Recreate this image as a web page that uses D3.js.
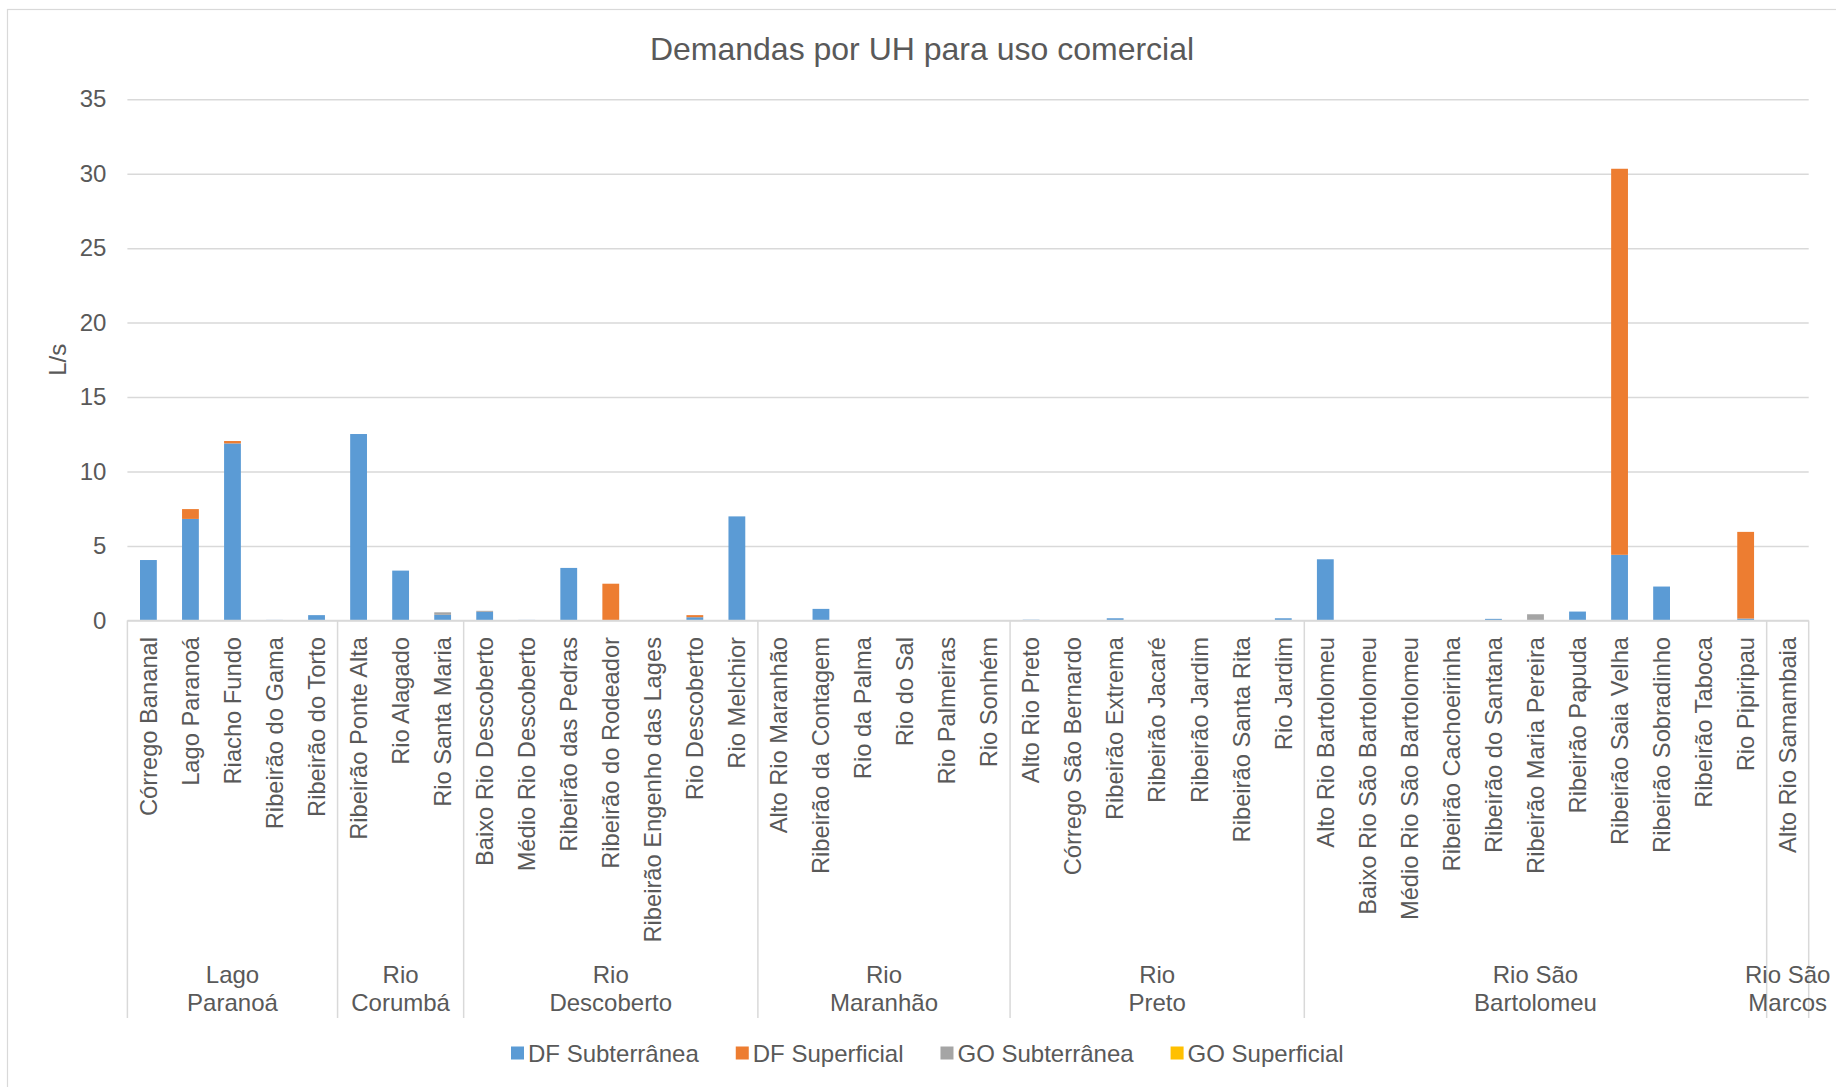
<!DOCTYPE html>
<html>
<head>
<meta charset="utf-8">
<script src="https://cdn.jsdelivr.net/npm/d3@7"></script>
<style>
  html, body { margin: 0; padding: 0; background: #ffffff; }
  svg { display: block; }
  text { font-family: "Liberation Sans", Arial, sans-serif; fill: #595959; }
</style>
</head>
<body>
<svg id="chart" width="1836" height="1087"></svg>
<script>
// ---------- DATA ----------
const categories = [
  "Córrego Bananal", "Lago Paranoá", "Riacho Fundo", "Ribeirão do Gama", "Ribeirão do Torto",
  "Ribeirão Ponte Alta", "Rio Alagado", "Rio Santa Maria",
  "Baixo Rio Descoberto", "Médio Rio Descoberto", "Ribeirão das Pedras", "Ribeirão do Rodeador", "Ribeirão Engenho das Lages", "Rio Descoberto", "Rio Melchior",
  "Alto Rio Maranhão", "Ribeirão da Contagem", "Rio da Palma", "Rio do Sal", "Rio Palmeiras", "Rio Sonhém",
  "Alto Rio Preto", "Córrego São Bernardo", "Ribeirão Extrema", "Ribeirão Jacaré", "Ribeirão Jardim", "Ribeirão Santa Rita", "Rio Jardim",
  "Alto Rio Bartolomeu", "Baixo Rio São Bartolomeu", "Médio Rio São Bartolomeu", "Ribeirão Cachoeirinha", "Ribeirão do Santana", "Ribeirão Maria Pereira", "Ribeirão Papuda", "Ribeirão Saia Velha", "Ribeirão Sobradinho", "Ribeirão Taboca", "Rio Pipiripau",
  "Alto Rio Samambaia"
];

const groupNames = [
  ["Lago", "Paranoá"], ["Rio", "Corumbá"], ["Rio", "Descoberto"], ["Rio", "Maranhão"],
  ["Rio", "Preto"], ["Rio São", "Bartolomeu"], ["Rio São", "Marcos"]
];
const groupSizes = [5, 3, 7, 6, 7, 11, 1];

const seriesNames = ["DF Subterrânea", "DF Superficial", "GO Subterrânea", "GO Superficial"];

const dfSubterranea = [
  4.06, 6.82, 11.89, 0.04, 0.36,
  12.52, 3.35, 0.38,
  0.58, 0.04, 3.53, 0, 0, 0.22, 6.99,
  0, 0.78, 0, 0, 0, 0,
  0.05, 0, 0.15, 0, 0, 0, 0.15,
  4.11, 0, 0, 0, 0.11, 0, 0.6, 4.41, 2.28, 0, 0.13,
  0
];
const dfSuperficial = [
  0, 0.66, 0.16, 0, 0,
  0, 0, 0,
  0, 0, 0, 2.47, 0, 0.14, 0,
  0, 0, 0, 0, 0, 0,
  0, 0, 0, 0, 0, 0, 0,
  0, 0, 0, 0, 0, 0, 0, 25.92, 0, 0, 5.82,
  0
];
const goSubterranea = [
  0, 0, 0, 0, 0,
  0, 0, 0.17,
  0.07, 0, 0, 0, 0, 0, 0,
  0, 0, 0, 0, 0, 0,
  0, 0, 0, 0, 0, 0, 0,
  0, 0, 0, 0, 0, 0.42, 0, 0, 0, 0, 0,
  0
];
const goSuperficial = [
  0, 0, 0, 0, 0,
  0, 0, 0,
  0, 0, 0, 0, 0, 0, 0,
  0, 0, 0, 0, 0, 0,
  0, 0, 0, 0, 0, 0, 0,
  0, 0, 0, 0, 0, 0, 0, 0, 0, 0, 0,
  0
];
const yTicks = [0, 5, 10, 15, 20, 25, 30, 35];

const colors = ["#5B9BD5", "#ED7D31", "#A5A5A5", "#FFC000"];

// ---------- LAYOUT ----------
const svg = d3.select("#chart");
const plot = { left: 127.4, right: 1808.7, top: 99.2, bottom: 620.5 };
const groupBottom = 1018;

// chart border
svg.append("rect")
  .attr("x", 7.5).attr("y", 9.5)
  .attr("width", 2000).attr("height", 2000)
  .attr("fill", "none").attr("stroke", "#d9d9d9").attr("stroke-width", 1.2);

const x = d3.scaleBand()
  .domain(categories)
  .range([plot.left, plot.right])
  .paddingInner(0.6)
  .paddingOuter(0.3);

const y = d3.scaleLinear().domain([0, 35]).range([plot.bottom, plot.top]);

// gridlines + y labels
const yAxis = d3.axisLeft(y)
  .tickValues(yTicks)
  .tickSize(-(plot.right - plot.left))
  .tickPadding(21)
  .tickFormat(d3.format("d"));

const gy = svg.append("g")
  .attr("transform", `translate(${plot.left},0)`)
  .call(yAxis);
gy.select(".domain").remove();
gy.selectAll(".tick line").attr("stroke", "#d9d9d9").attr("stroke-width", 1.5);
gy.selectAll(".tick text")
  .attr("font-size", 24)
  .attr("fill", "#595959")
  .style("font-family", '"Liberation Sans", Arial, sans-serif');

// y title
svg.append("text")
  .attr("transform", `translate(57,${(plot.top + plot.bottom) / 2}) rotate(-90)`)
  .attr("text-anchor", "middle")
  .attr("dominant-baseline", "central")
  .attr("font-size", 24)
  .text("L/s");

// stacked bars
const rows = categories.map((c, i) => ({
  cat: c,
  s0: dfSubterranea[i], s1: dfSuperficial[i], s2: goSubterranea[i], s3: goSuperficial[i]
}));
const stack = d3.stack().keys(["s0", "s1", "s2", "s3"]);
const stacked = stack(rows);

svg.append("g").selectAll("g")
  .data(stacked)
  .join("g")
  .attr("fill", (d, i) => colors[i])
  .selectAll("rect")
  .data(d => d)
  .join("rect")
  .attr("x", d => x(d.data.cat))
  .attr("width", x.bandwidth())
  .attr("y", d => y(d[1]))
  .attr("height", d => Math.max(0, y(d[0]) - y(d[1])));

// x axis line (baseline)
const xAxis = d3.axisBottom(x).tickSize(0).tickFormat("");
const gx = svg.append("g")
  .attr("transform", `translate(0,${plot.bottom})`)
  .call(xAxis);
gx.select(".domain").attr("stroke", "#d9d9d9").attr("stroke-width", 1.5)
  .attr("d", `M${plot.left},0H${plot.right}`);

// category labels
svg.append("g").selectAll("text")
  .data(categories)
  .join("text")
  .attr("transform", d => `translate(${x(d) + x.bandwidth() / 2},637) rotate(-90)`)
  .attr("text-anchor", "end")
  .attr("dy", "0.35em")
  .attr("font-size", 23.7)
  .text(d => d);

// group separators and labels
const step = x.step();
let start = 0;
const bounds = [0];
groupSizes.forEach(n => { start += n; bounds.push(start); });

const boundaryX = k => (k < categories.length ? x(categories[k]) - step * 0.3 : plot.right);

svg.append("g").selectAll("line")
  .data(bounds)
  .join("line")
  .attr("x1", k => boundaryX(k))
  .attr("x2", k => boundaryX(k))
  .attr("y1", plot.bottom)
  .attr("y2", groupBottom)
  .attr("stroke", "#d9d9d9")
  .attr("stroke-width", 1.5);

const groupLabels = svg.append("g");
groupNames.forEach((lines, gi) => {
  const cx = (boundaryX(bounds[gi]) + boundaryX(bounds[gi + 1])) / 2;
  const t = groupLabels.append("text")
    .attr("text-anchor", "middle")
    .attr("font-size", 24);
  lines.forEach((ln, li) => {
    t.append("tspan").attr("x", cx).attr("y", 983 + li * 27.5).text(ln);
  });
});

// title
svg.append("text")
  .attr("x", 922)
  .attr("y", 49)
  .attr("text-anchor", "middle")
  .attr("dominant-baseline", "central")
  .attr("font-size", 32)
  .text("Demandas por UH para uso comercial");

// legend
const legendY = 1053;
const legend = svg.append("g");
let lx = 511;
seriesNames.forEach((name, i) => {
  const g = legend.append("g").attr("transform", `translate(${lx},0)`);
  g.append("rect")
    .attr("x", 0).attr("y", legendY - 6.5)
    .attr("width", 13).attr("height", 13)
    .attr("fill", colors[i]);
  const t = g.append("text")
    .attr("x", 17)
    .attr("y", legendY)
    .attr("dominant-baseline", "central")
    .attr("font-size", 24)
    .text(name);
  const w = t.node().getComputedTextLength();
  lx += 17 + w + 37;
});
</script>
</body>
</html>
